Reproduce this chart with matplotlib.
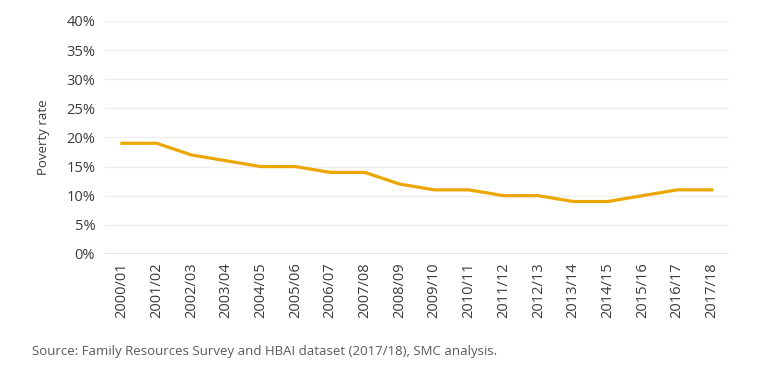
#!/usr/bin/env python3

import matplotlib
matplotlib.use('Agg')
import matplotlib.pyplot as plt
import matplotlib.ticker

YEARS = ['2000/01', '2001/02', '2002/03', '2003/04', '2004/05', '2005/06',
         '2006/07', '2007/08', '2008/09', '2009/10', '2010/11', '2011/12',
         '2012/13', '2013/14', '2014/15', '2015/16', '2016/17', '2017/18']
POVERTY_RATE = [19, 19, 17, 16, 15, 15, 14, 14, 12, 11, 11, 10, 10, 9, 9, 10, 11, 11]
Y_TICKS = [0, 5, 10, 15, 20, 25, 30, 35, 40]

LINE_COLOUR = '#EBA700'
TEXT_COLOUR = '#3a3a3a'

plt.rcParams['font.family'] = ['Open Sans', 'DejaVu Sans']

fig = plt.figure(figsize=(7.77, 3.68), dpi=100)
ax = fig.add_axes([0.135, 0.310, 0.803, 0.633])

x = list(range(len(YEARS)))
ax.plot(x, POVERTY_RATE, color=LINE_COLOUR, lw=2.3, solid_joinstyle='round', zorder=3)

ax.set_ylim(0, 40)
ax.set_xlim(-0.49, len(YEARS) - 0.51)
ax.set_yticks(Y_TICKS)
ax.yaxis.set_major_formatter(matplotlib.ticker.FuncFormatter(lambda v, p: f'{v:.0f}%'))
ax.set_xticks(x)
ax.set_xticklabels(YEARS, rotation=90)

ax.grid(axis='y', color='#efefef', lw=1.0, zorder=1)
ax.axhline(0, color='#e2e2e2', lw=1.5, zorder=2)
for s in ax.spines.values():
    s.set_visible(False)
ax.tick_params(axis='both', length=0, labelsize=10.5, colors=TEXT_COLOUR)
ax.tick_params(axis='y', pad=7)
ax.tick_params(axis='x', pad=6)

ax.set_ylabel('Poverty rate', fontsize=9.5, color=TEXT_COLOUR, labelpad=12)

fig.text(32 / 777, 1 - 352 / 368, 'Source: Family Resources Survey and HBAI dataset (2017/18), SMC analysis.',
         fontsize=9.5, color='#5a5a5a', va='center', ha='left')

fig.savefig('out.png', dpi=100)
